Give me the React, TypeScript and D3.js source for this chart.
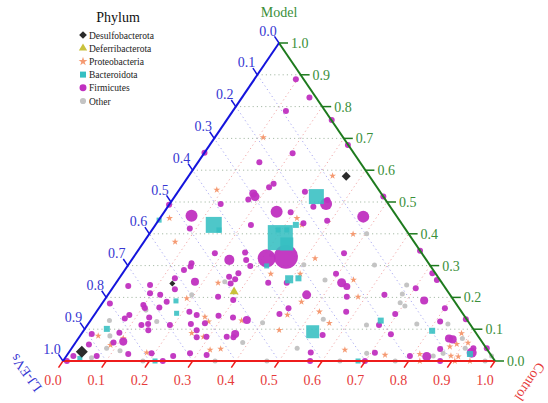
import React, { useEffect, useRef } from 'react';
import * as d3 from 'd3';

// each point: [Control, Model, abundance]  (LJ-EVs = 1 - Control - Model)
type Pt = [number, number, number];

const firmicutes: Pt[] = [
  [0.033, 0.236, 1], [0.137, 0.286, 1], [0.144, 0.307, 1], [0.129, 0.26, 1], [0.181, 0.249, 1.8],
  [0.082, 0.239, 1], [0.146, 0.226, 1], [0.095, 0.213, 1], [0.121, 0.208, 1], [0.147, 0.186, 1],
  [0.098, 0.176, 1], [0.139, 0.168, 1], [0.215, 0.155, 1], [0.237, 0.145, 1], [0.081, 0.145, 1],
  [0.076, 0.134, 1], [0.131, 0.137, 1], [0.125, 0.113, 1], [0.139, 0.116, 1], [0.149, 0.097, 1],
  [0.191, 0.113, 1], [0.238, 0.116, 1], [0.269, 0.119, 1], [0.261, 0.097, 1], [0.272, 0.075, 1],
  [0.294, 0.076, 1], [0.024, 0.085, 1], [0.086, 0.089, 1], [0.034, 0.052, 1], [0.109, 0.061, 1.8],
  [0.14, 0.022, 1], [0.07, 0.016, 1], [0.016, 0.016, 1], [0.193, 0.024, 1], [0.247, 0.016, 1],
  [0.282, 0.024, 1], [0.323, 0.019, 1], [0.018, 0.181, 1],
  [0.182, 0.339, 1], [0.226, 0.318, 2.8], [0.251, 0.341, 1], [0.265, 0.318, 1], [0.284, 0.299, 1],
  [0.31, 0.323, 9], [0.352, 0.328, 16], [0.481, 0.339, 1], [0.495, 0.274, 1], [0.522, 0.246, 2.25],
  [0.54, 0.234, 1.36], [0.268, 0.276, 1], [0.252, 0.265, 1], [0.27, 0.257, 1], [0.266, 0.244, 1],
  [0.395, 0.246, 1], [0.352, 0.246, 1], [0.258, 0.202, 1], [0.298, 0.192, 1], [0.46, 0.208, 2.25],
  [0.556, 0.202, 1], [0.439, 0.166, 1], [0.427, 0.148, 1], [0.578, 0.155, 1], [0.289, 0.142, 1],
  [0.325, 0.137, 1], [0.361, 0.129, 1.8], [0.56, 0.082, 1], [0.341, 0.076, 1], [0.356, 0.085, 1.8],
  [0.357, 0.075, 1], [0.56, 0.027, 1],
  [0.123, 0.786, 1], [0.142, 0.625, 1], [0.209, 0.557, 1], [0.204, 0.546, 1], [0.177, 0.527, 1.8],
  [0.186, 0.517, 2.25], [0.175, 0.508, 1], [0.118, 0.494, 1], [0.26, 0.469, 4], [0.069, 0.457, 4],
  [0.085, 0.417, 1], [0.221, 0.428, 1], [0.0, 0.491, 1], [0.0, 0.655, 1], [0.205, 0.653, 1],
  [0.294, 0.532, 1], [0.337, 0.485, 1], [0.362, 0.494, 4], [0.359, 0.506, 1], [0.293, 0.468, 1],
  [0.391, 0.441, 1], [0.34, 0.433, 1], [0.468, 0.454, 4], [0.483, 0.517, 1], [0.096, 0.886, 1],
  [0.156, 0.829, 1], [0.243, 0.758, 1], [0.32, 0.679, 1],
  [0.653, 0.347, 1], [0.717, 0.276, 1], [0.738, 0.255, 1], [0.702, 0.229, 1], [0.64, 0.208, 1],
  [0.741, 0.19, 1.8], [0.801, 0.166, 1], [0.695, 0.148, 1], [0.867, 0.131, 1], [0.675, 0.113, 1],
  [0.811, 0.124, 1], [0.717, 0.084, 1], [0.858, 0.071, 1.8], [0.868, 0.068, 1.8], [0.854, 0.038, 1],
  [0.93, 0.04, 1], [0.933, 0.026, 2.8], [0.961, 0.04, 1], [0.709, 0.026, 1], [0.835, 0.014, 2.25],
  [0.795, 0.016, 1],
  [0.699, 0, 1], [0.572, 0, 1], [0.009, 0, 1], [0.231, 0, 1], [0.873, 0, 1],
  [0.147, 0.297, 1], [0.106, 0.167, 1], [0.088, 0.058, 1],
];

const bacteroidota: Pt[] = [
  [0.309, 0.388, 17.4], [0.334, 0.368, 4.7], [0.292, 0.412, 0.7], [0.312, 0.412, 0.7],
  [0.135, 0.428, 7.1], [0.328, 0.517, 6.25], [0.532, 0.092, 4.7], [0.395, 0.257, 1.8],
  [0.415, 0.26, 1], [0.155, 0.412, 0.7], [0.325, 0.428, 1], [0.322, 0.299, 0.7],
  [0.167, 0.189, 0.7], [0.188, 0.15, 0.7], [0.051, 0.101, 1], [0.035, 0.008, 0.7],
  [0.213, 0, 0.7], [0.672, 0.127, 1], [0.807, 0.095, 1], [0.931, 0.022, 1],
  [0.683, 0, 0.7], [0.001, 0.443, 0.7],
];

const proteobacteria: Pt[] = [
  [0.072, 0.375, 0.5], [0.188, 0.197, 0.5], [0.259, 0.139, 0.5], [0.042, 0.079, 0.5],
  [0.104, 0.071, 0.5], [0.085, 0.05, 0.5], [0.181, 0.026, 0.5], [0.254, 0.088, 0.5],
  [0.422, 0.323, 0.5], [0.344, 0.274, 0.5], [0.412, 0.274, 0.5], [0.236, 0.246, 0.5],
  [0.459, 0.186, 0.5], [0.447, 0.145, 0.5], [0.516, 0.155, 0.5], [0.557, 0.119, 0.5],
  [0.275, 0.124, 0.5], [0.35, 0.127, 0.5], [0.452, 0.097, 0.5], [0.287, 0.076, 0.5],
  [0.323, 0.035, 0.5], [0.346, 0.038, 0.5], [0.635, 0.035, 0.5], [0.112, 0.703, 0.5],
  [0.087, 0.538, 0.5], [0.022, 0.449, 0.5], [0.333, 0.582, 0.5], [0.317, 0.449, 0.5],
  [0.339, 0.428, 0.5], [0.472, 0.399, 0.5], [0.545, 0.255, 0.5], [0.582, 0.202, 0.5],
  [0.879, 0.087, 0.5], [0.885, 0.053, 0.5], [0.89, 0.016, 0.5], [0.736, 0.019, 0.5],
  [0.815, 0.022, 0.5], [0.908, 0.014, 0.5], [0.909, 0.057, 0.5], [0.873, 0.045, 0.5],
  [0.826, 0, 0.5], [0.907, 0, 0.5], [0.942, 0, 0.5],
];

const other: Pt[] = [
  [0.112, 0.16, 0.7], [0.155, 0.124, 0.7], [0.194, 0.208, 0.7], [0.044, 0.127, 0.7],
  [0.069, 0.079, 0.7], [0.081, 0.04, 0.7], [0.116, 0.032, 0.7], [0.061, 0.01, 0.7],
  [0.085, 0.056, 0.7], [0.185, 0, 0.7], [0.352, 0, 0.7], [0.472, 0, 0.7], [0.641, 0, 0.7],
  [0.406, 0.303, 0.7], [0.316, 0.333, 0.7], [0.479, 0.255, 0.7], [0.25, 0.249, 0.7],
  [0.402, 0.12, 0.7], [0.387, 0.058, 0.7], [0.522, 0.04, 0.7], [0.537, 0.131, 0.7],
  [0.503, 0.4, 0.7], [0.57, 0.302, 0.7], [0.676, 0.239, 0.7], [0.68, 0.211, 0.7],
  [0.689, 0.183, 0.7], [0.705, 0.173, 0.7], [0.646, 0.113, 0.7], [0.691, 0.024, 0.7],
  [0.849, 0.016, 0.7], [0.868, 0.024, 0.7], [0.889, 0.071, 0.7], [0.911, 0.04, 0.7],
  [0.761, 0.116, 0.7], [0.833, 0.116, 0.7], [0.984, 0.016, 0.7], [0.769, 0, 0.7], [0.977, 0, 0.7],
];

const desulfobacterota: Pt[] = [[0.029, 0.029, 4], [0.365, 0.581, 2.25], [0.131, 0.244, 1]];
const deferribacterota: Pt[] = [[0.287, 0.218, 1]];

const legendNames = ['Desulfobacterota', 'Deferribacterota', 'Proteobacteria', 'Bacteroidota', 'Firmicutes', 'Other'];
const legendColors = ['#2b2b2b', '#c9c23c', '#f59a72', '#35bfc2', '#c030c0', '#c4c4c4'];
const tickValues = d3.range(0, 11).map(i => i / 10);
const gridValues = d3.range(1, 10).map(i => i / 10);

const FONT = '"Liberation Serif", "Times New Roman", serif';

export default function App() {
  const svgRef = useRef<SVGSVGElement>(null);

  useEffect(() => {
    if (!svgRef.current) return;
    const svg = d3.select(svgRef.current);
    svg.selectAll('*').remove();

    const left = 63, right = 495, bottom = 361, top = 43;
    const cx = d3.scaleLinear().domain([0, 1]).range([0, right - left]);
    const my = d3.scaleLinear().domain([0, 1]).range([bottom, top]);
    const proj = (c: number, m: number): [number, number] => [left + cx(c) + cx(m) / 2, my(m)];
    const rScale = d3.scaleSqrt().domain([0, 1]).range([0, 3]);

    const red = '#ee1c1c', green = '#1d7a1d', blue = '#1414dc';
    const redTxt = '#e63b3b', greenTxt = '#3a8f3a', blueTxt = '#3636d2';

    // grid lines
    const grid = svg.append('g').attr('fill', 'none').attr('stroke-width', 1).attr('stroke-dasharray', '1.2,3');
    gridValues.forEach(v => {
      const a = proj(0, v), b = proj(1 - v, v);
      grid.append('line').attr('x1', a[0]).attr('y1', a[1]).attr('x2', b[0]).attr('y2', b[1]).attr('stroke', '#a9bca9');
      const c1 = proj(v, 0), c2 = proj(v, 1 - v);
      grid.append('line').attr('x1', c1[0]).attr('y1', c1[1]).attr('x2', c2[0]).attr('y2', c2[1]).attr('stroke', '#f2a8a8');
      const l1 = proj(1 - v, 0), l2 = proj(0, 1 - v);
      grid.append('line').attr('x1', l1[0]).attr('y1', l1[1]).attr('x2', l2[0]).attr('y2', l2[1]).attr('stroke', '#a8a8f2');
    });

    const pts = svg.append('g');
    const at = (d: Pt) => { const p = proj(d[0], d[1]); return `translate(${p[0]},${p[1]})`; };

    pts.append('g').selectAll('circle').data(other).enter().append('circle')
      .attr('transform', at).attr('r', d => rScale(d[2])).attr('fill', '#c4c4c4');

    pts.append('g').selectAll('path').data(proteobacteria).enter().append('path')
      .attr('transform', at)
      .attr('d', d => d3.symbol().type(d3.symbolStar).size(Math.PI * rScale(d[2]) ** 2 * 1.05)() as string)
      .attr('fill', '#f59a72');

    pts.append('g').selectAll('circle').data(firmicutes).enter().append('circle')
      .attr('transform', at).attr('r', d => rScale(d[2])).attr('fill', '#c030c0').attr('fill-opacity', 0.95);

    pts.append('g').selectAll('rect').data(bacteroidota).enter().append('rect')
      .attr('transform', at)
      .attr('x', d => -rScale(d[2])).attr('y', d => -rScale(d[2]))
      .attr('width', d => 2 * rScale(d[2])).attr('height', d => 2 * rScale(d[2]))
      .attr('fill', '#35bfc2').attr('fill-opacity', 0.88);

    pts.append('g').selectAll('path').data(deferribacterota).enter().append('path')
      .attr('transform', at)
      .attr('d', d => d3.symbol().type(d3.symbolTriangle).size(Math.PI * rScale(d[2]) ** 2 * 1.2)() as string)
      .attr('fill', '#c9c23c');

    pts.append('g').selectAll('path').data(desulfobacterota).enter().append('path')
      .attr('transform', d => at(d) + ' rotate(45)')
      .attr('d', d => d3.symbol().type(d3.symbolSquare).size(2 * rScale(d[2]) ** 2)() as string)
      .attr('fill', '#2b2b2b');

    // axes
    const axes = svg.append('g').attr('stroke-width', 2).attr('fill', 'none');
    const [bl, br, tp] = [proj(0, 0), proj(1, 0), proj(0, 1)];
    axes.append('line').attr('x1', bl[0]).attr('y1', bl[1]).attr('x2', br[0]).attr('y2', br[1]).attr('stroke', red);
    axes.append('line').attr('x1', br[0]).attr('y1', br[1]).attr('x2', tp[0]).attr('y2', tp[1]).attr('stroke', green);
    axes.append('line').attr('x1', tp[0]).attr('y1', tp[1]).attr('x2', bl[0]).attr('y2', bl[1]).attr('stroke', blue);

    const txt = svg.append('g').attr('font-family', FONT).attr('font-size', 14);
    const tl = 8;
    tickValues.forEach(t => {
      // Control (bottom)
      const p = proj(t, 0);
      axes.append('line').attr('x1', p[0]).attr('y1', p[1]).attr('x2', p[0] - 0.562 * tl).attr('y2', p[1] + 0.827 * tl)
        .attr('stroke', red).attr('stroke-width', 1.5);
      txt.append('text').attr('x', p[0] - 10).attr('y', p[1] + 24).attr('text-anchor', 'middle')
        .attr('fill', redTxt).text(t.toFixed(1));
      // Model (right)
      const q = proj(1 - t, t);
      axes.append('line').attr('x1', q[0]).attr('y1', q[1]).attr('x2', q[0] + 9).attr('y2', q[1])
        .attr('stroke', green).attr('stroke-width', 1.5);
      txt.append('text').attr('x', q[0] + 12).attr('y', q[1] + 5).attr('fill', greenTxt).text(t.toFixed(1));
      // LJ-EVs (left)
      const r = proj(0, 1 - t);
      axes.append('line').attr('x1', r[0]).attr('y1', r[1]).attr('x2', r[0] - 0.562 * tl).attr('y2', r[1] - 0.827 * tl)
        .attr('stroke', blue).attr('stroke-width', 1.5);
      txt.append('text').attr('x', r[0] - 11).attr('y', r[1] - 7.5).attr('text-anchor', 'middle')
        .attr('fill', blueTxt).text(t.toFixed(1));
    });

    // axis titles
    txt.append('text').attr('x', tp[0]).attr('y', 17).attr('text-anchor', 'middle').attr('fill', greenTxt).text('Model');
    txt.append('text').attr('transform', 'translate(26,373) rotate(-126)').attr('text-anchor', 'middle')
      .attr('dy', '0.35em').attr('fill', blueTxt).text('LJ-EVs');
    txt.append('text').attr('transform', 'translate(530,382) rotate(124)').attr('text-anchor', 'middle')
      .attr('dy', '0.35em').attr('fill', redTxt).text('Control');

    // legend
    const lg = svg.append('g').attr('font-family', FONT);
    lg.append('text').attr('x', 118).attr('y', 22).attr('text-anchor', 'middle').attr('font-size', 14)
      .attr('fill', '#111').text('Phylum');
    const symTypes = [d3.symbolSquare, d3.symbolTriangle, d3.symbolStar, d3.symbolSquare, d3.symbolCircle, d3.symbolCircle];
    const symSizes = [30, 30, 24, 36, 38, 30];
    legendNames.forEach((name, i) => {
      const y = 35 + i * 13.2;
      lg.append('path')
        .attr('transform', `translate(83,${y})` + (i === 0 ? ' rotate(45)' : ''))
        .attr('d', d3.symbol().type(symTypes[i]).size(symSizes[i])() as string)
        .attr('fill', legendColors[i]);
      lg.append('text').attr('x', 89).attr('y', y + 3.5).attr('font-size', 9.5).attr('fill', '#222').text(name);
    });
  }, []);

  return (
    <div style={{ position: 'absolute', left: 0, top: 0 }}>
      <svg ref={svgRef} width={548} height={403} style={{ display: 'block', background: '#fff' }} />
    </div>
  );
}
